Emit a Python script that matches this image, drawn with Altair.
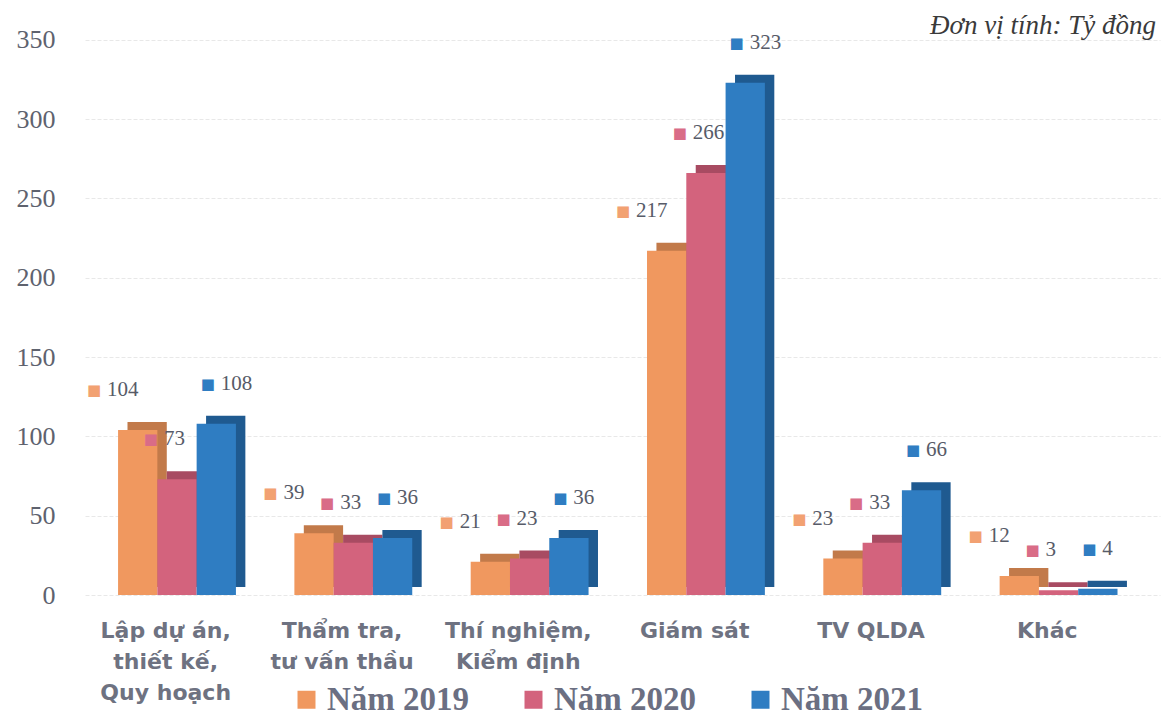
import altair as alt
import pandas as pd

categories = ["Lập dự án,|thiết kế,|Quy hoạch", "Thẩm tra,|tư vấn thầu",
              "Thí nghiệm,|Kiểm định", "Giám sát", "TV QLDA", "Khác"]
series = ["Năm 2019", "Năm 2020", "Năm 2021"]
v2019 = [104, 39, 21, 217, 23, 12]
v2020 = [73, 33, 23, 266, 33, 3]
v2021 = [108, 36, 36, 323, 66, 4]
front_colors = ["#F0985F", "#D3637D", "#2F7DC2"]
dark_colors = ["#C27A4A", "#A84B62", "#1F5A90"]
marker_colors = ["#F2A172", "#D96C87", "#2F7DC2"]
unit_text = ["Đơn vị tính: Tỷ đồng"]

rows = []
for s, vals in zip(series, [v2019, v2020, v2021]):
    for c, v in zip(categories, vals):
        rows.append({"cat": c, "series": s, "value": v})
df = pd.DataFrame(rows)

W, H = 1075, 571

x_enc = alt.X("cat:N", sort=categories, title=None,
              scale=alt.Scale(paddingInner=0.278, paddingOuter=0.1875),
              axis=alt.Axis(labelExpr="split(datum.label, '|')", labelAngle=0,
                            labelFont="DejaVu Sans", labelFontWeight="bold",
                            labelFontSize=22, labelColor="#6E7281",
                            labelLineHeight=31, labelPadding=25, labelOffset=-16,
                            domain=False, ticks=False, labelLimit=300))


def xo(align):
    return alt.XOffset("series:N", sort=series,
                       scale=alt.Scale(paddingInner=0, paddingOuter=0.12, align=align))


y_enc = alt.Y("value:Q", title=None,
              scale=alt.Scale(domain=[0, 360], nice=False),
              axis=alt.Axis(values=[0, 50, 100, 150, 200, 250, 300, 350],
                            labelFont="Liberation Serif", labelFontSize=26,
                            labelColor="#5E626E", labelPadding=30,
                            domain=False, ticks=False,
                            gridColor="#E8E8E8", gridDash=[4, 2], gridWidth=1))

base = alt.Chart(df)

back = base.mark_bar(yOffset=-8).encode(
    x=x_enc, xOffset=xo(1), y=y_enc,
    color=alt.Color("series:N", sort=series,
                    scale=alt.Scale(domain=series, range=dark_colors), legend=None))

front = base.mark_bar().encode(
    x=x_enc, xOffset=xo(0), y=y_enc,
    color=alt.Color("series:N", sort=series,
                    scale=alt.Scale(domain=series, range=front_colors),
                    legend=alt.Legend(title=None, orient="none", direction="horizontal",
                                      legendX=205, legendY=659,
                                      symbolType="square", symbolSize=324,
                                      symbolStrokeWidth=0,
                                      labelFont="Liberation Serif", labelFontWeight="bold",
                                      labelFontSize=33, labelColor="#6B6F82",
                                      labelLimit=400, columnPadding=47, labelOffset=4)))

bars = alt.layer(back, front).resolve_scale(color="independent", xOffset="independent")

markers = base.mark_text(text="■", font="DejaVu Sans", fontSize=15,
                         dx=-24, dy=-40, align="center", baseline="middle").encode(
    x=x_enc, xOffset=xo(0), y=y_enc,
    color=alt.Color("series:N", sort=series,
                    scale=alt.Scale(domain=series, range=marker_colors), legend=None))

labels = base.mark_text(font="Liberation Serif", fontSize=21, color="#575B68",
                        dx=-11, dy=-40, align="left", baseline="middle").encode(
    x=x_enc, xOffset=xo(0), y=y_enc, text="value:Q")

unit = alt.Chart(pd.DataFrame({"t": unit_text})).mark_text(
    font="Liberation Serif", fontStyle="italic", fontSize=27, color="#3A3A3A",
    align="right", baseline="alphabetic").encode(
    x=alt.value(W - 4), y=alt.value(10), text="t:N")

chart = alt.layer(bars, markers, labels, unit).resolve_scale(
    color="independent", xOffset="independent"
).properties(
    width=W, height=H,
    autosize=alt.AutoSizeParams(type="none"),
    padding={"left": 77, "top": 16, "right": 1, "bottom": 124},
).configure(background="white").configure_view(stroke=None)

chart.save("out.html", embed_options={"renderer": "svg", "actions": False})
